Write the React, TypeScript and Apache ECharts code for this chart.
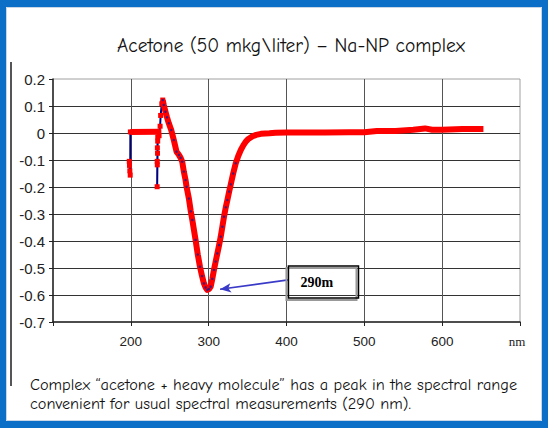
import React, { useEffect, useRef } from "react";
import * as echarts from "echarts";

// ---- data ----
// small blip near 198 nm (navy trace with red markers)
const blipNm = [198.0, 198.3, 198.7, 199.2, 199.4];
const blipAbs = [-0.105, -0.12, -0.14, -0.156, 0.004];

// flat segment before the 234 nm drop (red band)
const flatNm = [199.4, 236.0];
const flatAbs = [0.004, 0.005];

// drop and recovery near 234–241 nm (navy trace with red markers)
const dropNm = [236.0, 234.6, 234.1, 234.3, 233.9, 234.0, 233.8, 234.5, 236.3, 237.6, 238.3, 239.8, 241.0];
const dropAbs = [0.005, -0.015, -0.055, -0.075, -0.105, -0.118, -0.199, -0.03, -0.01, 0.025, 0.065, 0.108, 0.122];

// main spectrum from the peak onwards (red band)
const mainNm = [
  241.0, 242.3, 244.5, 246.5, 248.8, 251.9, 255.2, 258.7, 261.7, 264.0, 266.0, 268.1, 270.3, 271.6,
  274.6, 277.0, 279.0, 283.2, 286.0, 288.8, 291.5, 293.9, 296.0, 298.3, 300.5, 302.6, 304.7, 306.8,
  309.0, 311.2, 313.4, 315.5, 317.6, 319.7, 322.0, 324.1, 326.3, 328.4, 331.5, 334.8, 338.0, 341.3,
  344.5, 347.7, 351.0, 356.4, 361.0, 367.1, 378.0, 386.0, 400, 420, 450, 480, 500, 516, 540, 563,
  578, 587, 600, 626, 640, 653,
];
const mainAbs = [
  0.122, 0.104, 0.079, 0.058, 0.036, 0.011, -0.026, -0.069, -0.081, -0.092, -0.106, -0.143, -0.174, -0.199,
  -0.243, -0.29, -0.322, -0.396, -0.45, -0.495, -0.53, -0.557, -0.572, -0.581, -0.578, -0.569, -0.54, -0.507,
  -0.476, -0.446, -0.415, -0.384, -0.347, -0.31, -0.275, -0.248, -0.217, -0.19, -0.15, -0.112, -0.085, -0.063,
  -0.046, -0.032, -0.022, -0.012, -0.007, -0.003, -0.001, 0.001, 0.002, 0.002, 0.002, 0.003, 0.003, 0.007, 0.007, 0.012,
  0.017, 0.012, 0.012, 0.015, 0.015, 0.015,
];

// axis ranges
const xMin = 100;
const xMax = 700;
const xStep = 100;
const yMin = -0.7;
const yMax = 0.2;
const yStep = 0.1;

// annotation
const peakLabel = "290m";
const arrowFrom = [402.4, -0.544];
const arrowTo = [314.6, -0.579];
const boxTopLeft = [402.5, -0.493];
const boxBottomRight = [492.5, -0.611];

const titleText = "Acetone (50 mkg\\liter) \u2013 Na-NP complex";
const captionLines = [
  "Complex \u201cacetone + heavy molecule\u201d has a peak in the spectral range",
  "convenient for usual spectral measurements (290 nm).",
];

const pairs = (xs: number[], ys: number[]) => xs.map((x, i) => [x, ys[i]]);

const RED = "#ff0000";
const NAVY = "#000080";
const BLUE = "#0b6fc7";
const comic = '"Comic Sans MS", "Comic Neue", "Noto Sans", sans-serif';
const arial = '"Liberation Sans", Arial, sans-serif';

export default function App() {
  const ref = useRef<HTMLDivElement>(null);

  useEffect(() => {
    const chart = echarts.init(ref.current!, null, { renderer: "svg" });

    const option: any = {
      animation: false,
      backgroundColor: "#ffffff",
      grid: {
        left: 53,
        right: 28,
        top: 79,
        bottom: 106,
        show: true,
        borderColor: "#a0a0a0",
        borderWidth: 1,
        backgroundColor: "transparent",
      },
      xAxis: {
        type: "value",
        min: xMin,
        max: xMax,
        interval: xStep,
        axisLine: { show: true, onZero: false, lineStyle: { color: "#222", width: 1.5 } },
        axisTick: { show: true, length: 4, lineStyle: { color: "#222" } },
        axisLabel: {
          formatter: (v: number) => (v === xMin || v === xMax ? "" : String(v)),
          color: "#222",
          fontFamily: arial,
          fontSize: 13.5,
          margin: 12,
        },
        splitLine: {
          show: true,
          showMinLine: false,
          showMaxLine: false,
          lineStyle: { color: "#555", width: 1 },
        },
        name: "nm",
        nameLocation: "end",
        nameGap: -3,
        nameTextStyle: {
          align: "center",
          verticalAlign: "top",
          padding: [13, 0, 0, 0],
          fontFamily: '"Liberation Serif", "Times New Roman", serif',
          fontSize: 13,
          color: "#222",
        },
      },
      yAxis: {
        type: "value",
        min: yMin,
        max: yMax,
        interval: yStep,
        axisLine: { show: true, onZero: false, lineStyle: { color: "#222", width: 1.5 } },
        axisTick: { show: true, length: 4, lineStyle: { color: "#222" } },
        axisLabel: {
          formatter: (v: number) => {
            const r = Math.round(v * 10) / 10;
            return r === 0 ? "0" : String(r);
          },
          color: "#222",
          fontFamily: arial,
          fontSize: 15,
          margin: 8,
        },
        splitLine: {
          show: true,
          showMinLine: false,
          showMaxLine: false,
          lineStyle: { color: "#333", width: 1 },
        },
      },
      series: [
        {
          name: "blip",
          type: "line",
          data: pairs(blipNm, blipAbs),
          lineStyle: { color: NAVY, width: 2 },
          symbol: "rect",
          symbolSize: 5,
          showAllSymbol: true,
          itemStyle: { color: RED },
          z: 3,
        },
        {
          name: "flat",
          type: "line",
          data: pairs(flatNm, flatAbs),
          lineStyle: { color: RED, width: 6 },
          symbol: "none",
          z: 4,
        },
        {
          name: "drop",
          type: "line",
          data: pairs(dropNm, dropAbs),
          lineStyle: { color: NAVY, width: 2 },
          symbol: "rect",
          symbolSize: 5,
          showAllSymbol: true,
          itemStyle: { color: RED },
          z: 3,
          markLine: {
            silent: true,
            symbol: ["none", "arrow"],
            symbolSize: [7, 11],
            label: { show: false },
            lineStyle: { color: "#3a3ac8", width: 1.6, type: "solid" },
            data: [[{ coord: arrowFrom }, { coord: arrowTo }]],
          },
        },
        {
          name: "main",
          type: "line",
          data: pairs(mainNm, mainAbs),
          lineStyle: { color: RED, width: 6, join: "round" },
          symbol: "none",
          z: 4,
        },
        {
          name: "dots",
          type: "scatter",
          data: pairs(mainNm, mainAbs).filter((p) => p[0] <= 336),
          symbol: "circle",
          symbolSize: 2.5,
          itemStyle: { color: "#1c1c90" },
          z: 5,
        },
      ],
      graphic: [
        { id: "bt", type: "rect", shape: { x: 0, y: 0, width: 548, height: 7 }, style: { fill: BLUE }, z: 100 },
        { id: "bb", type: "rect", shape: { x: 0, y: 421, width: 548, height: 7 }, style: { fill: BLUE }, z: 100 },
        { id: "bl", type: "rect", shape: { x: 0, y: 0, width: 6, height: 428 }, style: { fill: BLUE }, z: 100 },
        { id: "br", type: "rect", shape: { x: 542, y: 0, width: 6, height: 428 }, style: { fill: BLUE }, z: 100 },
        {
          id: "inner",
          type: "rect",
          shape: { x: 6.5, y: 7.5, width: 535, height: 413 },
          style: { fill: "none", stroke: "#c8d6e6", lineWidth: 1 },
          z: 99,
        },
        {
          id: "frameLine",
          type: "line",
          shape: { x1: 11, y1: 62, x2: 11, y2: 386 },
          style: { stroke: "#555", lineWidth: 2 },
          z: 50,
        },
        {
          id: "title",
          type: "text",
          x: 291,
          y: 45,
          style: {
            text: titleText,
            fill: "#111",
            font: `19.5px ${comic}`,
            textAlign: "center",
            textVerticalAlign: "middle",
          },
          z: 50,
        },
        {
          id: "cap1",
          type: "text",
          x: 30,
          y: 384,
          style: {
            text: captionLines[0],
            fill: "#111",
            font: `16.3px ${comic}`,
            textAlign: "left",
            textVerticalAlign: "middle",
          },
          z: 50,
        },
        {
          id: "cap2",
          type: "text",
          x: 30,
          y: 403,
          style: {
            text: captionLines[1],
            fill: "#111",
            font: `16.3px ${comic}`,
            textAlign: "left",
            textVerticalAlign: "middle",
          },
          z: 50,
        },
      ],
    };

    chart.setOption(option);

    const tl = chart.convertToPixel({ gridIndex: 0 }, boxTopLeft) as number[];
    const brp = chart.convertToPixel({ gridIndex: 0 }, boxBottomRight) as number[];
    const w = brp[0] - tl[0];
    const h = brp[1] - tl[1];

    chart.setOption({
      graphic: [
        {
          id: "boxShadow",
          type: "rect",
          shape: { x: tl[0] - 2, y: tl[1] + 2, width: w, height: h },
          style: { fill: "none", stroke: "#999", lineWidth: 2 },
          z: 60,
        },
        {
          id: "box",
          type: "rect",
          shape: { x: tl[0], y: tl[1], width: w, height: h },
          style: { fill: "none", stroke: "#000", lineWidth: 1.5 },
          z: 61,
        },
        {
          id: "boxText",
          type: "text",
          x: tl[0] + 12,
          y: tl[1] + h / 2,
          style: {
            text: peakLabel,
            fill: "#000",
            font: 'bold 14px "Liberation Serif", "Times New Roman", serif',
            textAlign: "left",
            textVerticalAlign: "middle",
          },
          z: 62,
        },
      ],
    });

    return () => chart.dispose();
  }, []);

  return (
    <div
      ref={ref}
      style={{ position: "absolute", left: 0, top: 0, width: 548, height: 428 }}
    />
  );
}
